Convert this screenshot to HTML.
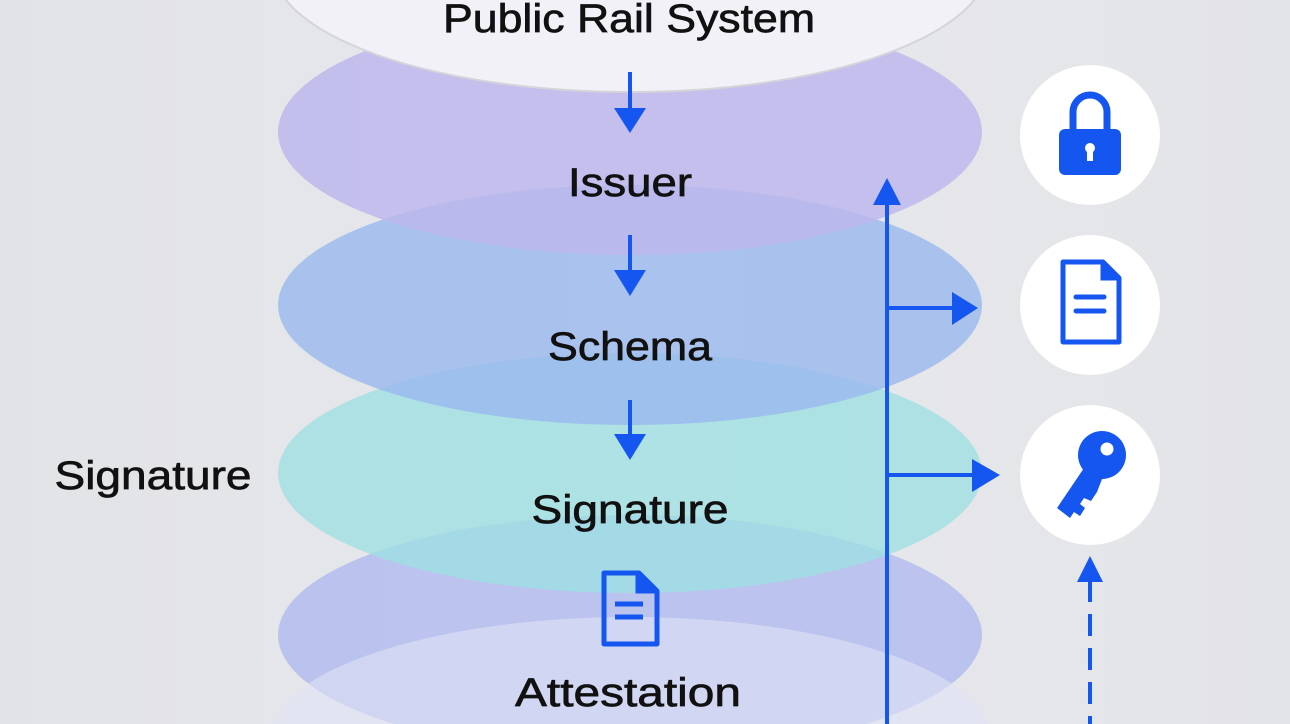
<!DOCTYPE html>
<html><head><meta charset="utf-8"><style>
html,body{margin:0;padding:0;width:1290px;height:724px;overflow:hidden;background:#e5e6ea}
svg{display:block;position:absolute;left:0;top:0}
text{font-family:"Liberation Sans",sans-serif;fill:#111;stroke:#111;stroke-width:0.7}
</style></head><body>
<svg width="1290" height="724" viewBox="0 0 1290 724" xmlns="http://www.w3.org/2000/svg">
<defs>
<linearGradient id="bg" x1="0" y1="0" x2="1" y2="0">
<stop offset="0" stop-color="#e2e3e7"/><stop offset="0.5" stop-color="#e8e9ed"/><stop offset="1" stop-color="#e3e4e8"/>
</linearGradient>
</defs>
<rect width="1290" height="724" fill="url(#bg)"/>
<!-- layers -->
<ellipse cx="630" cy="635" rx="352" ry="120" fill="#b3bcef" opacity="0.85"/>
<ellipse cx="630" cy="740" rx="362" ry="123" fill="#dfe2f5" opacity="0.6"/>
<ellipse cx="630" cy="473" rx="352" ry="120" fill="#9fe0e2" opacity="0.8"/>
<ellipse cx="630" cy="305" rx="352" ry="120" fill="#9ab8ee" opacity="0.8"/>
<ellipse cx="630" cy="132" rx="352" ry="123" fill="#bdb7ec" opacity="0.85"/>
<ellipse cx="630" cy="-35" rx="358" ry="127" fill="#f2f1f8" stroke="#d4d4da" stroke-width="2"/>
<!-- labels -->
<g font-size="40" text-anchor="middle">
<text x="629" y="32" textLength="372" lengthAdjust="spacingAndGlyphs">Public Rail System</text>
<text x="630" y="196" textLength="124" lengthAdjust="spacingAndGlyphs">Issuer</text>
<text x="630" y="360" textLength="164" lengthAdjust="spacingAndGlyphs">Schema</text>
<text x="630" y="523" textLength="197" lengthAdjust="spacingAndGlyphs">Signature</text>
<text x="628" y="706" textLength="226" lengthAdjust="spacingAndGlyphs">Attestation</text>
<text x="153" y="489" textLength="197" lengthAdjust="spacingAndGlyphs">Signature</text>
</g>
<!-- down arrows -->
<g stroke="#1556f0" stroke-width="4" fill="#1556f0">
<line x1="630" y1="72" x2="630" y2="112"/><polygon points="614,108 646,108 630,133" stroke="none"/>
<line x1="630" y1="235" x2="630" y2="275"/><polygon points="614,270 646,270 630,296" stroke="none"/>
<line x1="630" y1="400" x2="630" y2="438"/><polygon points="614,434 646,434 630,460" stroke="none"/>
<line x1="887" y1="195" x2="887" y2="724"/><polygon points="873,205 901,205 887,178" stroke="none"/>
<line x1="887" y1="308" x2="955" y2="308"/><polygon points="952,292 978,308 952,325" stroke="none"/>
<line x1="887" y1="475" x2="975" y2="475"/><polygon points="972,459 1000,475 972,492" stroke="none"/>
<line x1="1090" y1="580" x2="1090" y2="724" stroke-dasharray="22,12"/><polygon points="1077,582 1103,582 1090,556" stroke="none"/>
</g>
<!-- circles -->
<circle cx="1090" cy="135" r="70" fill="#fff"/>
<circle cx="1090" cy="305" r="70" fill="#fff"/>
<circle cx="1090" cy="475" r="70" fill="#fff"/>
<!-- lock -->
<path d="M1073,132 v-20 a17,17 0 0 1 34,0 v20" fill="none" stroke="#1556f0" stroke-width="7"/>
<rect x="1059" y="129" width="62" height="46" rx="6" fill="#1556f0"/>
<circle cx="1090" cy="148" r="5" fill="#fff"/><rect x="1087" y="149" width="6" height="12" fill="#fff"/>
<!-- doc icon -->
<path d="M1063,262 h40 l16,16 v64 h-56 z" fill="none" stroke="#1556f0" stroke-width="5" stroke-linejoin="round"/>
<path d="M1102,262 v17 h17" fill="#1556f0" stroke="#1556f0" stroke-width="3"/>
<line x1="1076" y1="297" x2="1104" y2="297" stroke="#1556f0" stroke-width="5" stroke-linecap="round"/>
<line x1="1076" y1="311" x2="1104" y2="311" stroke="#1556f0" stroke-width="5" stroke-linecap="round"/>
<!-- key -->
<circle cx="1102" cy="455" r="24" fill="#1556f0"/><circle cx="1107" cy="449" r="6.5" fill="#fff"/>
<path d="M1084,468 L1057,508 L1070,518 L1074,512 L1080,516 L1085,508 L1080,504 L1084,498 L1091,501 L1097,492 L1104,474 z" fill="#1556f0"/>
<!-- small doc -->
<path d="M604,573 h35 l18,18 v53 h-53 z" fill="none" stroke="#1556f0" stroke-width="5" stroke-linejoin="round"/>
<path d="M637,573 v19 h19" fill="#1556f0" stroke="#1556f0" stroke-width="3"/>
<line x1="615" y1="604" x2="643" y2="604" stroke="#1556f0" stroke-width="5"/>
<line x1="615" y1="617" x2="643" y2="617" stroke="#1556f0" stroke-width="5"/>
</svg>
</body></html>
